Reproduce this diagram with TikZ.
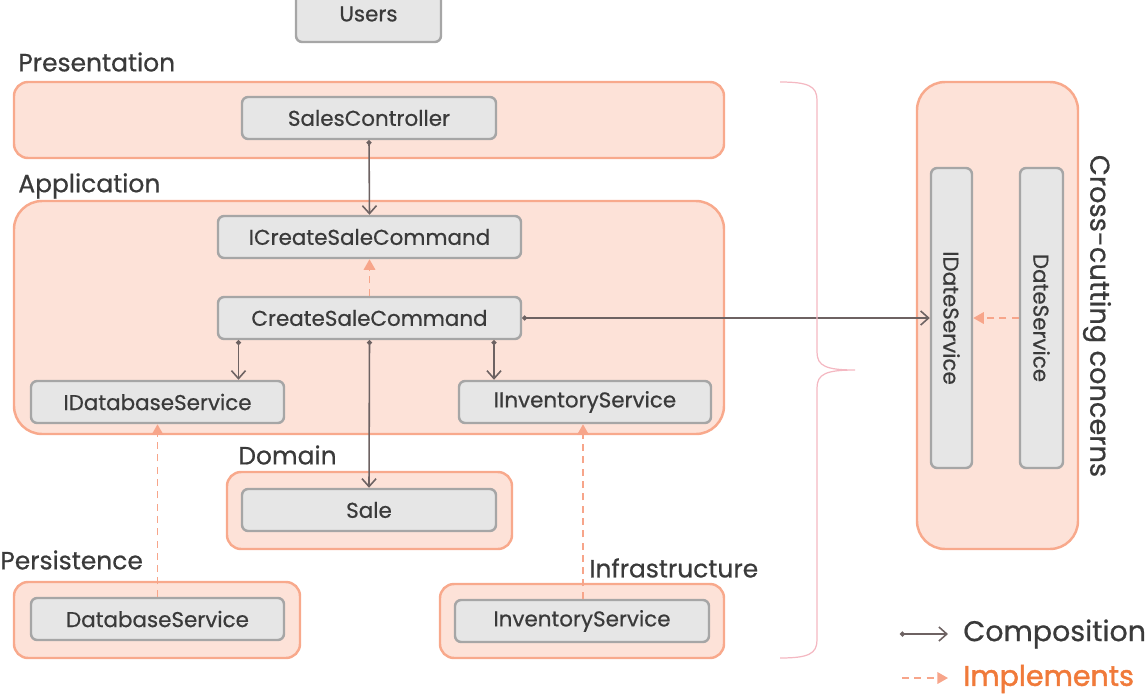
\documentclass[tikz,border=0pt]{standalone}
\usepackage{fontspec}
\setmainfont{Poppins}[FakeBold=0.6]
\usetikzlibrary{arrows.meta}
\definecolor{layerfill}{HTML}{FDE2D8}
\definecolor{layerdraw}{HTML}{F8A98C}
\definecolor{boxfill}{HTML}{E6E6E6}
\definecolor{boxdraw}{HTML}{A6A6A6}
\definecolor{txt}{HTML}{3A3A3A}
\definecolor{comp}{HTML}{6D6262}
\definecolor{impl}{HTML}{F7A58A}
\definecolor{implt}{HTML}{F07A3A}
\definecolor{bracec}{HTML}{F4B8C2}
\tikzset{
  layer/.style 2 args={draw=layerdraw, fill=layerfill, line width=1.4pt, rounded corners=8pt,
     minimum width=#1*0.02cm, minimum height=#2*0.02cm, inner sep=0pt},
  cls/.style 2 args={draw=boxdraw, fill=boxfill, line width=1.4pt, rounded corners=3.5pt,
     minimum width=#1*0.02cm, minimum height=#2*0.02cm, inner sep=0pt, text=txt,
     font=\fontsize{12.2}{14}\selectfont},
  lbl/.style={anchor=west, text=txt, inner sep=0pt, font=\fontsize{14.2}{16}\selectfont},
  compo/.style={draw=comp, line width=0.9pt, {Circle[length=2.8pt]}-{Straight Barb[length=4.5pt,width=8pt]}},
  implm/.style={draw=impl, line width=1.1pt, dash pattern=on 4pt off 3pt, -{Triangle[length=6pt,width=6.5pt]}},
}
\begin{document}
\begin{tikzpicture}[x=0.02cm,y=-0.02cm]
\useasboundingbox (0,0) rectangle (1147,694);
\clip (0,0) rectangle (1147,694);
% layers
\node[layer={710}{76}] (pres) at (369,120) {};
\node[layer={710}{233}, rounded corners=16pt] (app) at (369,317.5) {};
\node[layer={285}{77}] (dom) at (369.5,510.5) {};
\node[layer={286}{76}] (pers) at (157,620) {};
\node[layer={284}{74}] (infra) at (582,621) {};
\node[layer={161}{467}, rounded corners=16pt] (cross) at (997.5,315.5) {};
% layer labels
\node[lbl] (lpres) at (18,62) {Presentation};
\node[lbl] (lapp) at (18,186) {Application};
\node[lbl] (ldom) at (238,455) {Domain};
\node[lbl] (lpers) at (0,560) {Persistence};
\node[lbl] (linfra) at (589,568) {Infrastructure};
\node[text=txt, rotate=-90, inner sep=0pt, font=\fontsize{15.5}{17}\selectfont] (lcross) at (1097,316) {Cross-cutting concerns};
% classes
\node[cls={145}{56}] (users) at (368.5,14) {Users};
\node[cls={254}{42}] (sc) at (369,118) {SalesController};
\node[cls={303}{42}] (icsc) at (369.5,237) {ICreateSaleCommand};
\node[cls={303}{42}] (csc) at (369.5,318) {CreateSaleCommand};
\node[cls={253}{42}] (idb) at (157.5,402) {IDatabaseService};
\node[cls={252}{42}] (iinv) at (585,402) {IInventoryService};
\node[cls={254}{42}] (sale) at (369,510) {Sale};
\node[cls={253}{42}] (dbs) at (157.5,619) {DatabaseService};
\node[cls={254}{42}] (invs) at (582,621) {InventoryService};
\node[cls={300}{41}, rotate=-90] (idate) at (951.5,318) {IDateService};
\node[cls={300}{43}, rotate=-90] (date) at (1041.5,318) {DateService};
% composition connectors
\draw[compo] (sc.south) -- (icsc.north);
\draw[compo] ([xshift=-131*0.02cm]csc.south) -- ([xshift=81*0.02cm]idb.north);
\draw[compo] (csc.south) -- (sale.north);
\draw[compo] ([xshift=124.5*0.02cm]csc.south) -- ([xshift=-91*0.02cm]iinv.north);
\draw[compo] (csc.east) -- (idate.south);
% implements connectors
\draw[implm] (csc.north) -- (icsc.south);
\draw[implm] (dbs.north) -- (idb.south);
\draw[implm] ([xshift=1*0.02cm]invs.north) -- ([xshift=-2*0.02cm]iinv.south);
\draw[implm] (date.south) -- (idate.north);
% brace
\draw[bracec, line width=0.7pt] (780,82) .. controls (808,82) and (817,86) .. (817,100) -- (817,352)
   .. controls (817,366) and (826,370) .. (855,370)
   .. controls (826,370) and (817,374) .. (817,388) -- (817,640)
   .. controls (817,654) and (808,658) .. (780,658);
% legend
\coordinate (c1) at (900,634); \coordinate (c2) at (948,634);
\coordinate (i1) at (902,678); \coordinate (i2) at (948,678);
\draw[compo] (c1) -- (c2);
\draw[implm] (i1) -- (i2);
\node[anchor=west, text=txt, inner sep=0pt, font=\fontsize{16.2}{18}\selectfont] (lcomp) at (963,634) {Composition};
\node[anchor=west, text=implt, inner sep=0pt, font=\fontsize{16.2}{18}\selectfont\addfontfeature{FakeBold=1.6}] (limpl) at (963,679) {Implements};
\end{tikzpicture}
\end{document}
